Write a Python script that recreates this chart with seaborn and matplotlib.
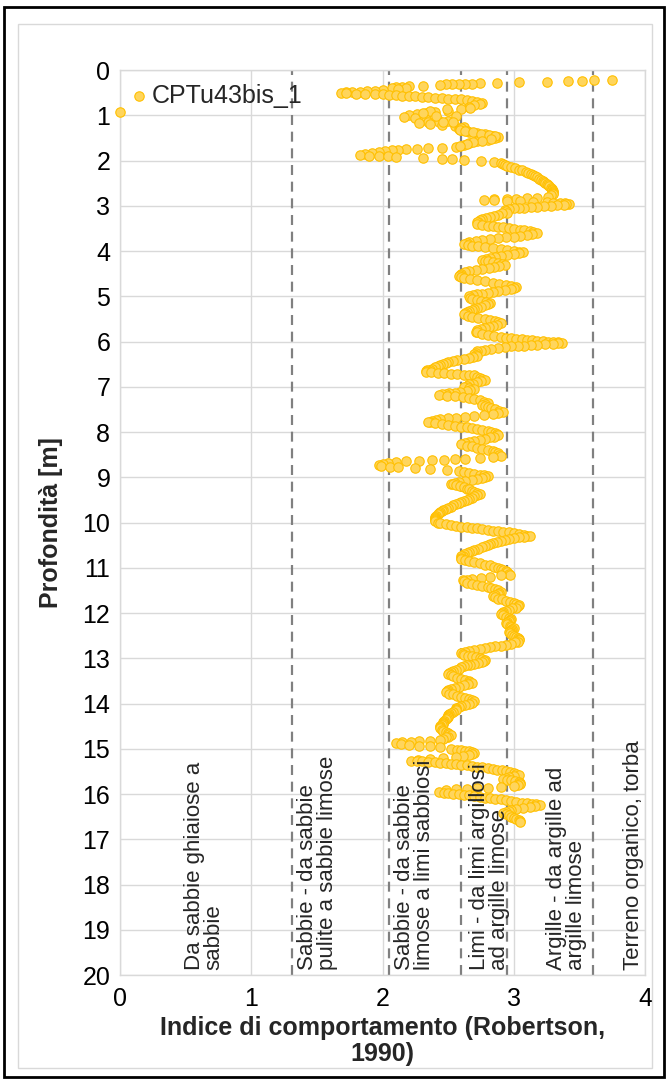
import pandas as pd
import seaborn as sns
import matplotlib.pyplot as plt
from matplotlib.patches import Rectangle

# CPTu43bis_1 - Ic (Robertson 1990) vs depth [m]
depth_0_2 = [
    0.93, 0.22, 0.23, 0.24, 0.25, 0.26, 0.27, 0.28, 0.29, 0.30,
    0.30, 0.31, 0.31, 0.32, 0.33, 0.35, 0.36, 0.37, 0.38, 0.39,
    0.40, 0.42, 0.44, 0.46, 0.47, 0.48, 0.49, 0.49, 0.50, 0.51,
    0.52, 0.52, 0.53, 0.54, 0.55, 0.56, 0.57, 0.58, 0.58, 0.59,
    0.60, 0.61, 0.62, 0.63, 0.64, 0.65, 0.66, 0.68, 0.70, 0.72,
    0.75, 0.78, 0.82, 0.86, 0.90, 0.93, 0.95, 0.97, 1.00, 1.03,
    1.06, 1.08, 1.10, 1.12, 1.14, 1.16, 1.18, 1.20, 1.22, 1.24,
    1.27, 1.30, 1.33, 1.36, 1.39, 1.42, 1.45, 1.48, 1.51, 1.55,
    1.58, 1.62, 1.66, 1.70, 1.72, 1.73, 1.74, 1.75, 1.76, 1.77,
    1.79, 1.81, 1.83, 1.85, 1.87, 1.89, 1.90, 1.91, 1.92, 1.94,
    1.96, 1.97, 1.99, 2.01, 2.03, 2.06, 0.87, 0.91, 0.95, 1.02,
    1.02, 1.14, 1.14, 0.84, 1.30, 1.35, 1.285, 1.315, 1.345, 1.375,
    1.405, 1.435, 1.465, 1.53, 1.565, 1.60, 1.64, 1.68,
]
ic_0_2 = [
    0.00, 3.75, 3.61, 3.52, 3.41, 3.25, 3.04, 2.87, 2.74, 2.68,
    2.63, 2.58, 2.53, 2.48, 2.44, 2.31, 2.20, 2.15, 2.10, 2.07,
    2.18, 2.12, 2.00, 1.94, 1.88, 1.83, 1.77, 1.72, 1.68, 1.72,
    1.80, 1.87, 1.94, 2.00, 2.05, 2.10, 2.15, 2.20, 2.25, 2.30,
    2.35, 2.40, 2.45, 2.50, 2.55, 2.60, 2.64, 2.68, 2.72, 2.76,
    2.74, 2.70, 2.66, 2.60, 2.50, 2.40, 2.33, 2.26, 2.20, 2.16,
    2.25, 2.33, 2.42, 2.50, 2.43, 2.35, 2.28, 2.36, 2.45, 2.55,
    2.62, 2.58, 2.60, 2.66, 2.72, 2.78, 2.84, 2.88, 2.86, 2.80,
    2.72, 2.66, 2.62, 2.56, 2.45, 2.35, 2.26, 2.18, 2.12, 2.07,
    2.02, 1.97, 1.92, 1.87, 1.83, 1.90, 1.97, 2.04, 2.10, 2.31,
    2.45, 2.53, 2.62, 2.75, 2.85, 2.90, 2.49, 2.36, 2.31, 2.41,
    2.56, 2.46, 2.54, 2.67, 2.59, 2.64, 2.60, 2.59, 2.63, 2.69,
    2.75, 2.81, 2.86, 2.83, 2.76, 2.69, 2.64, 2.59,
]

depth_2_3 = [
    2.08, 2.10, 2.12, 2.15, 2.17, 2.20, 2.22, 2.25, 2.27, 2.30,
    2.32, 2.35, 2.37, 2.40, 2.42, 2.45, 2.47, 2.50, 2.52, 2.55,
    2.57, 2.60, 2.62, 2.65, 2.67, 2.70, 2.72, 2.75, 2.77, 2.80,
    2.82, 2.83, 2.84, 2.85, 2.86, 2.87, 2.88, 2.89, 2.90, 2.91,
    2.92, 2.93, 2.94, 2.95, 2.96, 2.97, 2.98, 2.99, 3.00, 3.01,
    3.02, 3.03, 3.04, 3.05, 3.06, 3.08, 3.09,
]
ic_2_3 = [
    2.92, 2.93, 2.95, 2.98, 3.01, 3.04, 3.06, 3.09, 3.11, 3.13,
    3.15, 3.16, 3.18, 3.19, 3.21, 3.22, 3.23, 3.24, 3.25, 3.26,
    3.27, 3.28, 3.29, 3.29, 3.30, 3.30, 3.30, 3.30, 3.28, 3.26,
    3.18, 3.10, 3.02, 2.95, 2.85, 2.77, 2.85, 2.95, 3.05, 3.15,
    3.25, 3.30, 3.35, 3.39, 3.42, 3.40, 3.38, 3.33, 3.28, 3.23,
    3.18, 3.13, 3.08, 3.04, 3.00, 2.96, 2.93,
]

depth_3_6 = [
    3.12, 3.15, 3.17, 3.20, 3.22, 3.25, 3.27, 3.30, 3.32, 3.35,
    3.37, 3.40, 3.42, 3.44, 3.45, 3.47, 3.48, 3.50, 3.51, 3.53,
    3.54, 3.56, 3.58, 3.60, 3.62, 3.64, 3.66, 3.68, 3.70, 3.72,
    3.74, 3.76, 3.78, 3.80, 3.82, 3.84, 3.86, 3.88, 3.90, 3.92,
    3.94, 3.96, 3.98, 4.00, 4.02, 4.03, 4.05, 4.07, 4.09, 4.11,
    4.13, 4.15, 4.17, 4.19, 4.21, 4.23, 4.25, 4.27, 4.29, 4.31,
    4.33, 4.35, 4.37, 4.40, 4.42, 4.45, 4.47, 4.50, 4.52, 4.55,
    4.57, 4.60, 4.62, 4.65, 4.67, 4.70, 4.72, 4.75, 4.77, 4.80,
    4.82, 4.84, 4.86, 4.88, 4.90, 4.92, 4.94, 4.96, 4.98, 5.00,
    5.03, 5.05, 5.08, 5.10, 5.13, 5.15, 5.18, 5.20, 5.23, 5.25,
    5.28, 5.30, 5.33, 5.35, 5.38, 5.40, 5.43, 5.45, 5.48, 5.50,
    5.53, 5.55, 5.58, 5.60, 5.63, 5.65, 5.68, 5.70, 5.73, 5.75,
    5.78, 5.80, 5.83, 5.85, 5.88, 5.90, 5.92, 5.93, 5.94, 5.95,
    5.96, 5.97, 5.98, 5.99, 6.00, 6.01, 6.02, 6.03, 6.04, 6.05,
    6.06, 6.07, 6.08, 6.09, 6.10, 6.11, 6.12, 6.14, 6.16, 6.18,
    6.20, 6.22, 6.25, 6.27, 6.30, 6.32, 6.34, 6.36, 6.38, 6.40,
    6.42, 6.45, 6.47, 6.50, 6.52, 6.55, 6.57, 6.60, 6.62,
]
ic_3_6 = [
    2.94, 2.95, 2.91, 2.88, 2.85, 2.82, 2.79, 2.76, 2.74, 2.73,
    2.72, 2.72, 2.76, 2.80, 2.84, 2.88, 2.92, 2.96, 3.00, 3.05,
    3.08, 3.12, 3.15, 3.18, 3.14, 3.10, 3.05, 3.00, 2.94, 2.88,
    2.82, 2.76, 2.71, 2.66, 2.64, 2.62, 2.65, 2.68, 2.73, 2.78,
    2.84, 2.90, 2.95, 3.00, 3.04, 3.07, 3.04, 3.00, 2.95, 2.90,
    2.86, 2.82, 2.79, 2.76, 2.78, 2.80, 2.84, 2.88, 2.91, 2.93,
    2.89, 2.85, 2.81, 2.76, 2.71, 2.66, 2.63, 2.60, 2.59, 2.58,
    2.60, 2.62, 2.67, 2.72, 2.78, 2.84, 2.89, 2.94, 2.98, 3.02,
    3.00, 2.98, 2.93, 2.88, 2.84, 2.80, 2.76, 2.72, 2.69, 2.66,
    2.67, 2.68, 2.72, 2.75, 2.79, 2.82, 2.80, 2.78, 2.75, 2.72,
    2.70, 2.68, 2.66, 2.64, 2.63, 2.62, 2.65, 2.68, 2.73, 2.78,
    2.82, 2.86, 2.88, 2.90, 2.87, 2.84, 2.81, 2.78, 2.75, 2.72,
    2.71, 2.72, 2.76, 2.80, 2.85, 2.90, 2.94, 2.98, 3.02, 3.06,
    3.10, 3.14, 3.18, 3.22, 3.26, 3.30, 3.34, 3.37, 3.34, 3.30,
    3.24, 3.18, 3.13, 3.08, 3.03, 2.98, 2.93, 2.88, 2.83, 2.78,
    2.75, 2.72, 2.71, 2.70, 2.71, 2.72, 2.69, 2.66, 2.62, 2.57,
    2.54, 2.50, 2.48, 2.46, 2.44, 2.42, 2.40, 2.38, 2.36,
]

depth_6_10 = [
    6.64, 6.66, 6.67, 6.68, 6.69, 6.70, 6.71, 6.72, 6.73, 6.74,
    6.75, 6.78, 6.80, 6.83, 6.85, 6.88, 6.90, 6.93, 6.95, 6.98,
    7.00, 7.03, 7.05, 7.08, 7.10, 7.12, 7.13, 7.14, 7.15, 7.17,
    7.18, 7.20, 7.21, 7.23, 7.25, 7.28, 7.30, 7.33, 7.35, 7.38,
    7.40, 7.43, 7.45, 7.48, 7.50, 7.53, 7.55, 7.58, 7.60, 7.62,
    7.64, 7.66, 7.68, 7.70, 7.72, 7.74, 7.76, 7.78, 7.79, 7.81,
    7.82, 7.84, 7.86, 7.88, 7.90, 7.92, 7.94, 7.96, 7.98, 8.00,
    8.02, 8.05, 8.07, 8.10, 8.12, 8.15, 8.17, 8.20, 8.22, 8.25,
    8.27, 8.30, 8.32, 8.35, 8.37, 8.40, 8.42, 8.45, 8.47, 8.50,
    8.52, 8.55, 8.57, 8.59, 8.60, 8.61, 8.62, 8.63, 8.64, 8.66,
    8.68, 8.70, 8.73, 8.75, 8.77, 8.78, 8.80, 8.82, 8.84, 8.86,
    8.88, 8.90, 8.92, 8.94, 8.96, 8.98, 9.00, 9.02, 9.04, 9.06,
    9.08, 9.10, 9.12, 9.14, 9.16, 9.18, 9.20, 9.22, 9.25, 9.27,
    9.30, 9.32, 9.35, 9.37, 9.40, 9.42, 9.45, 9.47, 9.50, 9.52,
    9.55, 9.57, 9.60, 9.62, 9.65, 9.67, 9.70, 9.72, 9.75, 9.77,
    9.80, 9.82, 9.85, 9.87, 9.90, 9.92, 9.95, 9.97, 10.00, 10.02,
]
ic_6_10 = [
    2.34, 2.33, 2.33, 2.37, 2.42, 2.47, 2.52, 2.57, 2.62, 2.66,
    2.70, 2.72, 2.74, 2.76, 2.78, 2.75, 2.72, 2.69, 2.66, 2.64,
    2.62, 2.66, 2.70, 2.67, 2.64, 2.59, 2.55, 2.51, 2.48, 2.45,
    2.43, 2.49, 2.55, 2.61, 2.66, 2.70, 2.74, 2.77, 2.80, 2.78,
    2.76, 2.78, 2.80, 2.83, 2.86, 2.89, 2.92, 2.88, 2.84, 2.77,
    2.70, 2.63, 2.56, 2.50, 2.44, 2.41, 2.38, 2.36, 2.35, 2.40,
    2.45, 2.50, 2.55, 2.60, 2.64, 2.68, 2.72, 2.76, 2.80, 2.83,
    2.86, 2.87, 2.88, 2.85, 2.82, 2.78, 2.74, 2.70, 2.66, 2.63,
    2.60, 2.64, 2.68, 2.72, 2.76, 2.80, 2.84, 2.86, 2.88, 2.89,
    2.90, 2.84, 2.74, 2.63, 2.55, 2.47, 2.38, 2.28, 2.18, 2.10,
    2.04, 2.00, 1.97, 1.99, 2.06, 2.12, 2.25, 2.36, 2.49, 2.58,
    2.62, 2.66, 2.70, 2.74, 2.77, 2.80, 2.78, 2.76, 2.72, 2.68,
    2.63, 2.58, 2.55, 2.52, 2.54, 2.56, 2.59, 2.62, 2.64, 2.66,
    2.68, 2.70, 2.72, 2.74, 2.72, 2.70, 2.68, 2.66, 2.64, 2.62,
    2.60, 2.58, 2.56, 2.54, 2.52, 2.50, 2.48, 2.46, 2.45, 2.44,
    2.43, 2.42, 2.41, 2.40, 2.40, 2.40, 2.40, 2.40, 2.42, 2.44,
]

depth_10_13 = [
    10.04, 10.06, 10.07, 10.09, 10.10, 10.12, 10.13, 10.15, 10.16, 10.18,
    10.19, 10.21, 10.22, 10.24, 10.25, 10.27, 10.29, 10.30, 10.32, 10.33,
    10.35, 10.37, 10.39, 10.41, 10.43, 10.45, 10.48, 10.50, 10.53, 10.55,
    10.58, 10.60, 10.63, 10.65, 10.68, 10.70, 10.73, 10.75, 10.78, 10.80,
    10.83, 10.85, 10.88, 10.90, 10.93, 10.95, 10.98, 11.00, 11.03, 11.05,
    11.08, 11.10, 11.13, 11.15, 11.17, 11.20, 11.22, 11.24, 11.26, 11.28,
    11.30, 11.33, 11.35, 11.38, 11.40, 11.43, 11.45, 11.48, 11.50, 11.53,
    11.55, 11.58, 11.60, 11.63, 11.65, 11.68, 11.70, 11.73, 11.75, 11.78,
    11.80, 11.83, 11.85, 11.88, 11.90, 11.93, 11.95, 11.98, 12.00, 12.03,
    12.05, 12.08, 12.10, 12.13, 12.15, 12.18, 12.20, 12.23, 12.25, 12.28,
    12.30, 12.33, 12.35, 12.38, 12.40, 12.43, 12.45, 12.48, 12.50, 12.53,
    12.55, 12.58, 12.60, 12.63, 12.65, 12.68, 12.70, 12.72, 12.74, 12.76,
    12.78, 12.80, 12.82, 12.84, 12.86, 12.88, 12.90, 12.92, 12.94, 12.96,
    12.98, 13.00, 13.02, 13.04,
]
ic_10_13 = [
    2.48, 2.52, 2.56, 2.60, 2.64, 2.68, 2.72, 2.76, 2.80, 2.84,
    2.88, 2.92, 2.96, 3.00, 3.04, 3.08, 3.10, 3.12, 3.08, 3.04,
    3.00, 2.96, 2.93, 2.90, 2.87, 2.84, 2.82, 2.80, 2.78, 2.76,
    2.73, 2.70, 2.68, 2.66, 2.64, 2.62, 2.61, 2.60, 2.60, 2.60,
    2.63, 2.66, 2.70, 2.74, 2.78, 2.82, 2.85, 2.88, 2.90, 2.92,
    2.94, 2.95, 2.96, 2.97, 2.90, 2.82, 2.75, 2.68, 2.64, 2.61,
    2.62, 2.64, 2.68, 2.72, 2.76, 2.80, 2.83, 2.86, 2.88, 2.90,
    2.89, 2.88, 2.86, 2.84, 2.86, 2.88, 2.91, 2.94, 2.97, 3.00,
    3.02, 3.04, 3.03, 3.02, 2.99, 2.96, 2.94, 2.92, 2.91, 2.90,
    2.92, 2.94, 2.96, 2.98, 2.97, 2.96, 2.95, 2.94, 2.95, 2.97,
    2.98, 3.00, 2.99, 2.98, 2.97, 2.96, 2.97, 2.99, 3.00, 3.02,
    3.03, 3.04, 3.04, 3.03, 3.01, 2.98, 2.94, 2.90, 2.86, 2.82,
    2.78, 2.74, 2.70, 2.66, 2.63, 2.60, 2.61, 2.62, 2.65, 2.68,
    2.71, 2.74, 2.76, 2.78,
]

depth_13_17 = [
    13.06, 13.08, 13.10, 13.12, 13.14, 13.16, 13.18, 13.20, 13.23, 13.25,
    13.28, 13.30, 13.33, 13.35, 13.38, 13.40, 13.43, 13.45, 13.48, 13.50,
    13.53, 13.55, 13.58, 13.60, 13.63, 13.65, 13.68, 13.70, 13.73, 13.75,
    13.78, 13.80, 13.83, 13.85, 13.88, 13.90, 13.93, 13.95, 13.98, 14.00,
    14.03, 14.05, 14.08, 14.10, 14.13, 14.15, 14.18, 14.20, 14.23, 14.25,
    14.28, 14.30, 14.33, 14.35, 14.38, 14.40, 14.43, 14.45, 14.48, 14.50,
    14.53, 14.55, 14.58, 14.60, 14.63, 14.65, 14.68, 14.70, 14.73, 14.75,
    14.78, 14.80, 14.82, 14.83, 14.84, 14.86, 14.87, 14.89, 14.91, 14.93,
    14.95, 14.97, 15.00, 15.02, 15.03, 15.05, 15.06, 15.08, 15.10, 15.12,
    15.14, 15.16, 15.18, 15.20, 15.22, 15.24, 15.26, 15.27, 15.28, 15.29,
    15.30, 15.31, 15.32, 15.33, 15.34, 15.35, 15.37, 15.38, 15.40, 15.41,
    15.43, 15.44, 15.46, 15.48, 15.50, 15.52, 15.54, 15.56, 15.58, 15.60,
    15.62, 15.64, 15.66, 15.68, 15.70, 15.72, 15.74, 15.76, 15.78, 15.80,
    15.82, 15.85, 15.86, 15.87, 15.88, 15.90, 15.92, 15.95, 15.97, 15.98,
    16.00, 16.01, 16.02, 16.03, 16.05, 16.06, 16.08, 16.09, 16.11, 16.12,
    16.14, 16.15, 16.17, 16.19, 16.20, 16.22, 16.23, 16.25, 16.27, 16.29,
    16.31, 16.33, 16.35, 16.37, 16.40, 16.42, 16.45, 16.47, 16.50, 16.52,
    16.55, 16.57, 16.60, 16.62,
]
ic_13_17 = [
    2.77, 2.76, 2.73, 2.70, 2.67, 2.64, 2.62, 2.60, 2.58, 2.56,
    2.54, 2.52, 2.51, 2.50, 2.52, 2.54, 2.57, 2.60, 2.63, 2.66,
    2.67, 2.68, 2.65, 2.62, 2.58, 2.55, 2.52, 2.50, 2.49, 2.48,
    2.51, 2.54, 2.57, 2.60, 2.63, 2.66, 2.68, 2.70, 2.68, 2.66,
    2.63, 2.60, 2.58, 2.56, 2.56, 2.56, 2.54, 2.52, 2.51, 2.50,
    2.50, 2.50, 2.49, 2.48, 2.47, 2.46, 2.46, 2.46, 2.45, 2.44,
    2.44, 2.44, 2.45, 2.46, 2.48, 2.50, 2.51, 2.52, 2.50, 2.48,
    2.46, 2.44, 2.36, 2.28, 2.22, 2.15, 2.10, 2.14, 2.20, 2.28,
    2.36, 2.44, 2.52, 2.57, 2.60, 2.63, 2.66, 2.68, 2.70, 2.68,
    2.66, 2.61, 2.56, 2.46, 2.36, 2.27, 2.22, 2.26, 2.30, 2.35,
    2.40, 2.44, 2.48, 2.52, 2.56, 2.60, 2.64, 2.68, 2.72, 2.76,
    2.80, 2.84, 2.87, 2.91, 2.94, 2.97, 3.00, 3.02, 3.04, 3.00,
    2.96, 2.94, 2.92, 2.95, 2.98, 3.01, 3.04, 3.05, 3.05, 3.03,
    3.00, 2.90, 2.80, 2.72, 2.64, 2.56, 2.48, 2.43, 2.47, 2.50,
    2.54, 2.58, 2.62, 2.66, 2.70, 2.74, 2.78, 2.82, 2.86, 2.90,
    2.94, 2.98, 3.02, 3.06, 3.10, 3.14, 3.17, 3.20, 3.16, 3.12,
    3.07, 3.02, 2.98, 2.96, 2.94, 2.92, 2.94, 2.96, 2.98, 3.00,
    3.02, 3.04, 3.05, 3.05,
]

# Robertson (1990) zone boundaries and labels
zone_limits = [1.31, 2.05, 2.60, 2.95, 3.60]
zone_labels = [
    "Da sabbie ghiaiose a\nsabbie",
    "Sabbie - da sabbie\npulite a sabbie limose",
    "Sabbie - da sabbie\nlimose a limi sabbiosi",
    "Limi - da limi argillosi\nad argille limose",
    "Argille - da argille ad\nargille limose",
    "Terreno organico, torba",
]
zone_label_x = [0.64, 1.505, 2.245, 2.815, 3.40, 3.91]

x_ticks = [0, 1, 2, 3, 4]
y_ticks = list(range(0, 21))

df = pd.DataFrame({
    "depth": depth_0_2 + depth_2_3 + depth_3_6 + depth_6_10 + depth_10_13 + depth_13_17,
    "ic": ic_0_2 + ic_2_3 + ic_3_6 + ic_6_10 + ic_10_13 + ic_13_17,
})

sns.set_theme(style="whitegrid")
plt.rcParams['font.family'] = ['Liberation Sans', 'DejaVu Sans']

fig = plt.figure(figsize=(6.67, 10.8), dpi=100)
ax = fig.add_axes([120 / 667, 1 - 975 / 1080, 525 / 667, 905 / 1080])

# dashed zone limits
for xl in zone_limits:
    ax.axvline(xl, color="#808080", lw=1.6, dashes=(4.5, 3), zorder=2)

sns.scatterplot(data=df, x="ic", y="depth", ax=ax, s=46, color="#FFD55C",
                edgecolor="#FFC000", linewidth=0.8, label="CPTu43bis_1",
                zorder=3, clip_on=False)

for xt, txt in zip(zone_label_x, zone_labels):
    ax.text(xt, 19.88, txt, rotation=90, ha="center", va="bottom",
            multialignment="left", fontsize=16, linespacing=0.92, zorder=4)

ax.set_xlim(0, 4)
ax.set_ylim(20, 0)
ax.set_xticks(x_ticks)
ax.set_yticks(y_ticks)
ax.grid(True, color="#D9D9D9", lw=1)
for sp in ax.spines.values():
    sp.set_color("#D9D9D9")
    sp.set_linewidth(1)
ax.tick_params(axis="both", length=0, labelsize=18, colors="black")
ax.tick_params(axis="x", pad=9)
ax.tick_params(axis="y", pad=7)

ax.set_xlabel("Indice di comportamento (Robertson,\n1990)", fontsize=18,
              fontweight="bold", labelpad=3, linespacing=1.1)
ax.set_ylabel("Profondità [m]", fontsize=18, fontweight="bold", labelpad=14)

ax.legend(loc="upper left", bbox_to_anchor=(0.017, 0.985), frameon=False,
          fontsize=18, handlelength=0.8, handletextpad=0.1,
          borderpad=0, borderaxespad=0)

# chart frames
fig.patches.append(Rectangle((18 / 667, 1 - 1068 / 1080), 634 / 667, 1044 / 1080,
                             transform=fig.transFigure, fill=False,
                             ec="#D9D9D9", lw=1))
fig.patches.append(Rectangle((3.5 / 667, 1 - 1077 / 1080), 660 / 667, 1070 / 1080,
                             transform=fig.transFigure, fill=False,
                             ec="black", lw=2))

plt.savefig("out.png", dpi=100)
plt.close()
